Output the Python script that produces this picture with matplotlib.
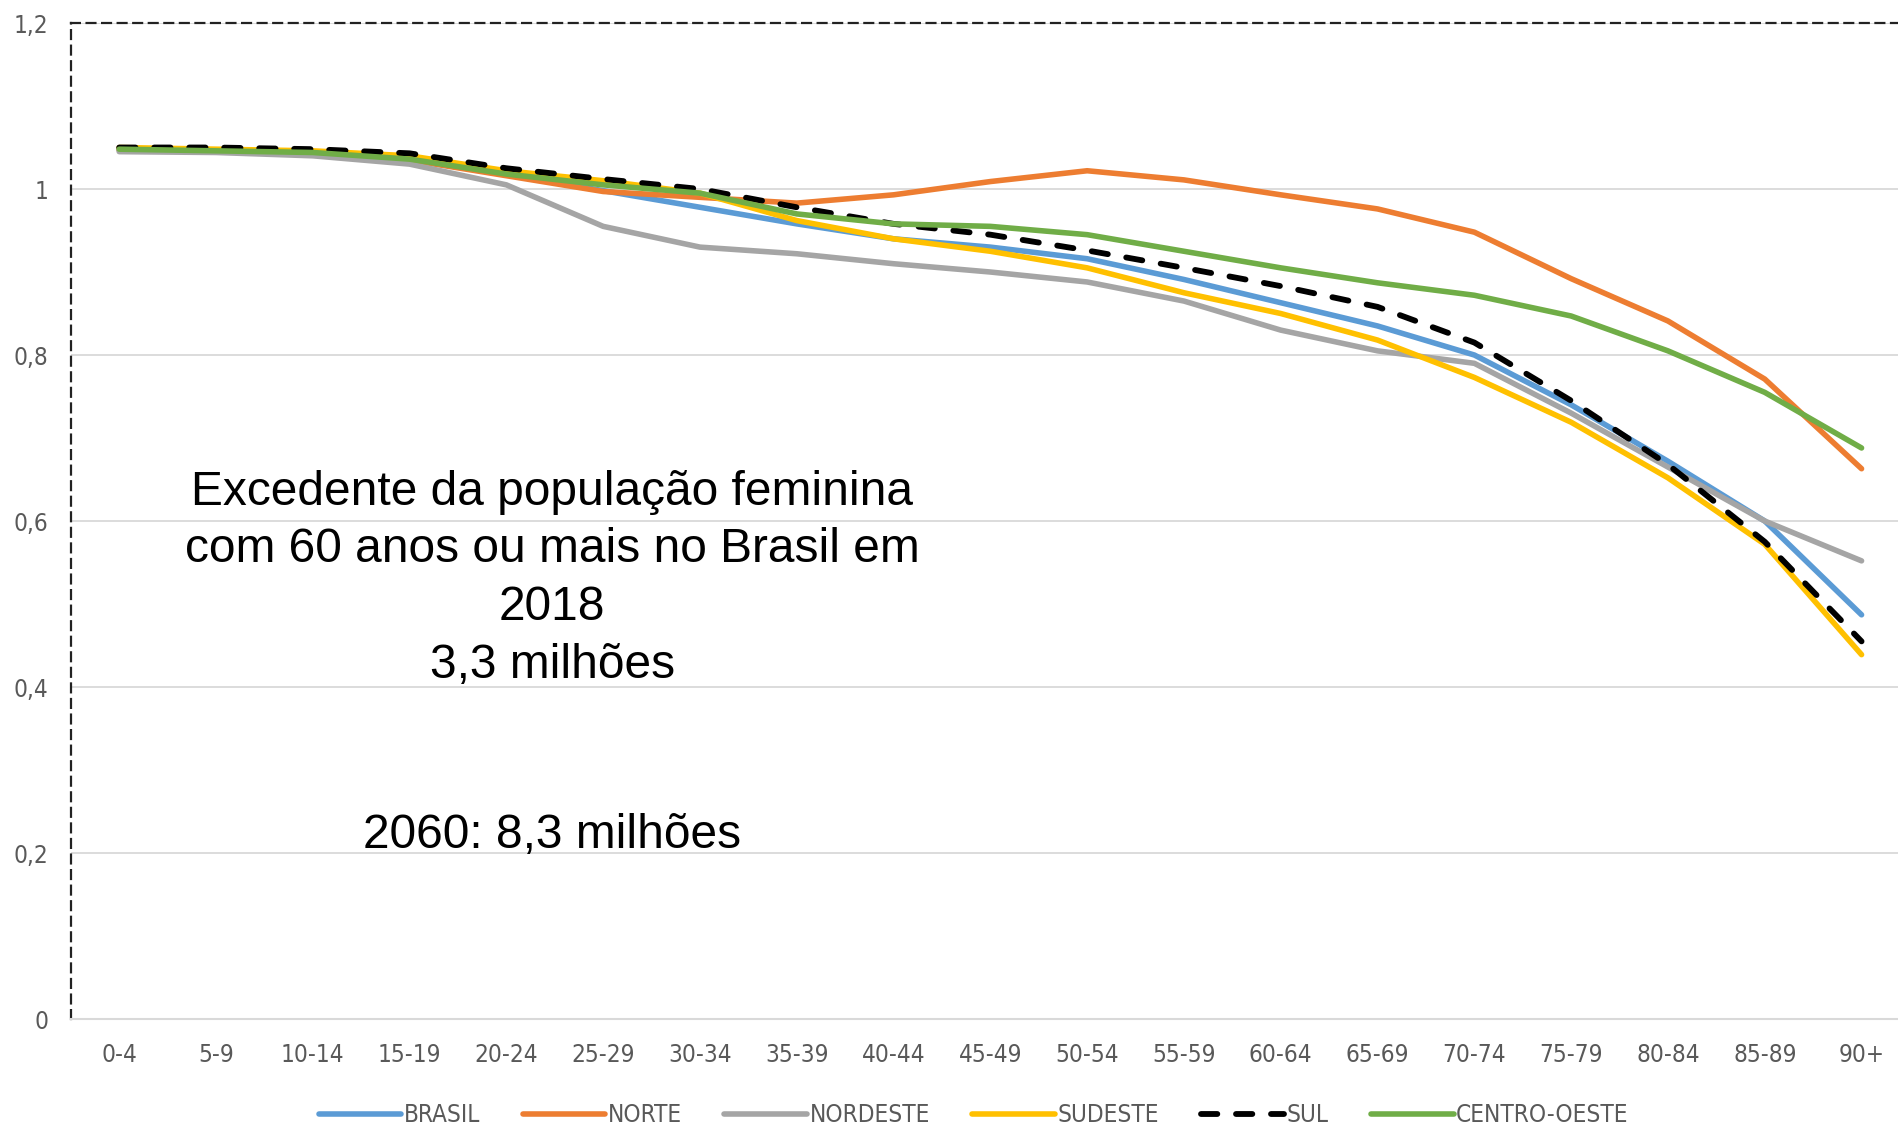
import numpy as np
import matplotlib
matplotlib.use('Agg')
import matplotlib.pyplot as plt
from matplotlib.ticker import FuncFormatter

# faixas etárias
age_groups = ['0-4', '5-9', '10-14', '15-19', '20-24', '25-29', '30-34', '35-39',
              '40-44', '45-49', '50-54', '55-59', '60-64', '65-69', '70-74',
              '75-79', '80-84', '85-89', '90+']

brasil = [1.047, 1.046, 1.043, 1.035, 1.018, 0.998, 0.978, 0.958, 0.940, 0.930,
          0.916, 0.891, 0.863, 0.835, 0.800, 0.740, 0.672, 0.600, 0.487]
norte = [1.047, 1.046, 1.043, 1.035, 1.016, 0.997, 0.990, 0.983, 0.993, 1.009,
         1.022, 1.011, 0.993, 0.976, 0.948, 0.892, 0.841, 0.771, 0.663]
nordeste = [1.045, 1.044, 1.040, 1.030, 1.005, 0.955, 0.930, 0.922, 0.910, 0.900,
            0.888, 0.865, 0.830, 0.805, 0.790, 0.730, 0.665, 0.600, 0.552]
sudeste = [1.050, 1.048, 1.046, 1.040, 1.022, 1.010, 0.995, 0.962, 0.940, 0.925,
           0.905, 0.875, 0.850, 0.818, 0.773, 0.719, 0.652, 0.572, 0.439]
sul = [1.050, 1.050, 1.048, 1.043, 1.025, 1.012, 1.000, 0.978, 0.958, 0.945,
       0.926, 0.905, 0.883, 0.858, 0.815, 0.745, 0.668, 0.575, 0.455]
centro_oeste = [1.048, 1.046, 1.044, 1.036, 1.018, 1.005, 0.995, 0.970, 0.958, 0.955,
                0.945, 0.925, 0.905, 0.887, 0.872, 0.847, 0.805, 0.755, 0.688]

series_names = ['BRASIL', 'NORTE', 'NORDESTE', 'SUDESTE', 'SUL', 'CENTRO-OESTE']
series_values = [brasil, norte, nordeste, sudeste, sul, centro_oeste]
colors = ['#5B9BD5', '#ED7D31', '#A5A5A5', '#FFC000', '#000000', '#70AD47']

y_ticks = [0, 0.2, 0.4, 0.6, 0.8, 1.0, 1.2]

tick_font = ['Liberation Sans Narrow', 'DejaVu Sans']
gray_text = '#595959'

fig = plt.figure(figsize=(18.98, 11.28), dpi=100)
ax = fig.add_axes([0.0373, 0.0966, 0.969, 0.883])

x = np.arange(len(age_groups))
for name, vals, c in zip(series_names, series_values, colors):
    if name == 'SUL':
        ax.plot(x, vals, color=c, lw=4.2, label=name, linestyle=(0, (2.8, 3.2)),
                dash_capstyle='round', solid_joinstyle='round')
    else:
        ax.plot(x, vals, color=c, lw=4.0, label=name,
                solid_capstyle='round', solid_joinstyle='round')

ax.set_xlim(-0.5, len(age_groups) - 0.5)
ax.set_ylim(0, 1.2)
ax.set_xticks(x)
ax.set_xticklabels(age_groups, family=tick_font, stretch='condensed',
                   fontsize=17.5, color=gray_text)
ax.set_yticks(y_ticks)
ax.yaxis.set_major_formatter(FuncFormatter(lambda v, p: ('%g' % v).replace('.', ',')))
for lbl in ax.get_yticklabels():
    lbl.set_family(tick_font)
    lbl.set_stretch('condensed')
    lbl.set_fontsize(17.5)
    lbl.set_color(gray_text)
ax.tick_params(axis='x', length=0, pad=17)
ax.tick_params(axis='y', length=0, pad=16)

ax.grid(axis='y', color='#D9D9D9', lw=1.3)
ax.set_axisbelow(True)
for s in ['top', 'left']:
    ax.spines[s].set_color('#222222')
    ax.spines[s].set_linestyle((0, (4, 3)))
    ax.spines[s].set_linewidth(1.6)
ax.spines['right'].set_visible(False)
ax.spines['bottom'].set_color('#D9D9D9')
ax.spines['bottom'].set_linewidth(1.5)

fig.text(0.291, 0.487, 'Excedente da população feminina\ncom 60 anos ou mais no Brasil em\n2018\n3,3 milhões',
         ha='center', va='center', fontsize=34.5,
         family='Liberation Sans', linespacing=1.36)
fig.text(0.291, 0.2597, '2060: 8,3 milhões',
         ha='center', va='center', fontsize=34.5, family='Liberation Sans')

leg = fig.legend(loc='center', bbox_to_anchor=(0.513, 0.0115), ncol=6, frameon=False,
                 handlelength=3.4, handletextpad=0.1, columnspacing=1.75,
                 prop={'family': tick_font, 'stretch': 'condensed', 'size': 17.5})
for t in leg.get_texts():
    t.set_color(gray_text)

fig.savefig('out.png', dpi=100)
